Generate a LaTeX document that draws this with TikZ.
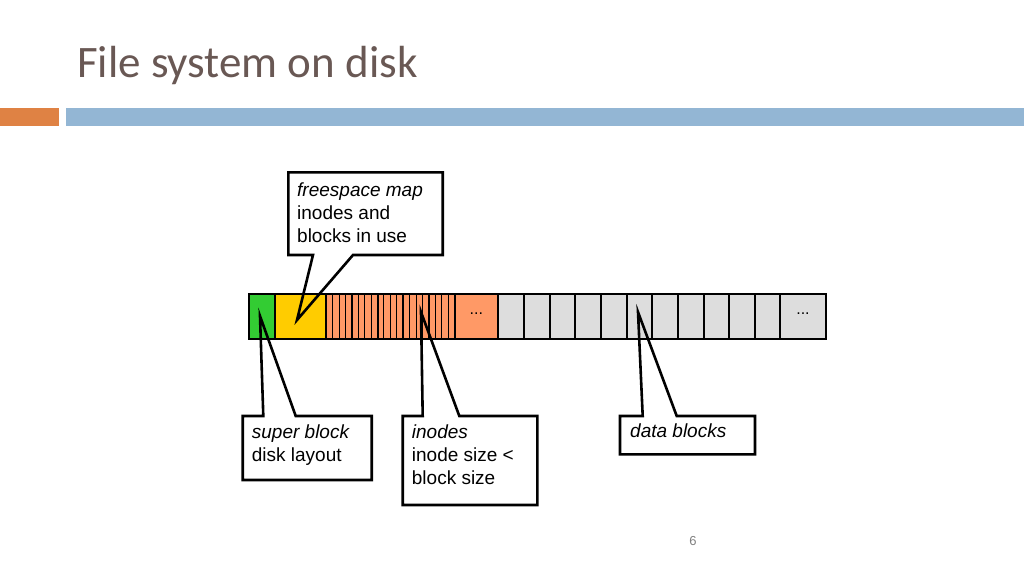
\documentclass[tikz,border=0pt]{standalone}
\usepackage{fontspec}
\setmainfont{Liberation Sans}
\newfontfamily\titlefont{Carlito}
\definecolor{titlegray}{RGB}{105,88,84}
\definecolor{barorange}{RGB}{223,130,68}
\definecolor{barblue}{RGB}{147,182,212}
\definecolor{sbgreen}{RGB}{51,204,51}
\definecolor{fmyellow}{RGB}{255,204,0}
\definecolor{inorange}{RGB}{255,153,102}
\definecolor{dbgray}{RGB}{221,221,221}
\tikzset{
  blk/.style={draw=black,line width=2pt},
  callout/.style={draw=black,line width=2.6pt,line join=miter},
  notetext/.style={anchor=north west,inner sep=0pt,align=left,font=\fontsize{19}{23}\selectfont},
}
\begin{document}
\begin{tikzpicture}[x=1pt,y=-1pt]
\useasboundingbox (0,0) rectangle (1024,576);
\fill[barorange] (0,108) rectangle (59,126);
\fill[barblue] (66,108) rectangle (1024,126);
\node[anchor=base west,inner sep=0pt,text=titlegray,font=\titlefont\fontsize{45}{45}\selectfont] (title) at (77,77) {File system on disk};

\draw[blk,fill=sbgreen] (249.3,294) rectangle (274.95,339.3);
\draw[blk,fill=fmyellow] (274.95,294) rectangle (326.25,339.3);
\foreach \i in {0,...,4} {
  \draw[blk,fill=inorange] ({326.25+25.65*\i},294) rectangle ({351.9+25.65*\i},339.3);
  \foreach \j in {1,2,3}
    \draw[line width=1pt] ({326.25+25.65*\i+6.41*\j},294) -- ++(0,45.3);
}
\draw[blk,fill=inorange] (454.5,294) rectangle (498.3,339.3);
\foreach \i in {0,...,10}
  \draw[blk,fill=dbgray] ({498.3+25.65*\i},294) rectangle ({523.95+25.65*\i},339.3);
\draw[blk,fill=dbgray] (780.45,294) rectangle (825.7,339.3);
\node[font=\fontsize{16}{16}\selectfont] (idots) at (476.4,314) {...};
\node[font=\fontsize{16}{16}\selectfont] (ddots) at (803,314) {...};

\coordinate (fmtip) at (297,320);
\coordinate (sbtip) at (260,316);
\coordinate (intip) at (421,312);
\coordinate (dbtip) at (638,312);
\draw[callout] (288.3,172.3) -- (442.7,172.3) -- (442.7,255) -- (353,255) -- (fmtip) -- (313,255) -- (288.3,255) -- cycle;
\draw[callout] (242.7,416) -- (263.3,416) -- (sbtip) -- (295.7,416) -- (371.7,416) -- (371.7,480) -- (242.7,480) -- cycle;
\draw[callout] (402.7,416) -- (422.7,416) -- (intip) -- (459.3,416) -- (537.3,416) -- (537.3,505) -- (402.7,505) -- cycle;
\draw[callout] (620,416) -- (642.7,416) -- (dbtip) -- (676.7,416) -- (755,416) -- (755,454.3) -- (620,454.3) -- cycle;

\node[notetext] (fmtext) at (297,182.8) {\textit{freespace map}\\inodes and\\blocks in use};
\node[notetext] (sbtext) at (251.7,424.4) {\textit{super block}\\disk layout};
\node[notetext] (intext) at (411.7,424.4) {\textit{inodes}\\inode size <\\block size};
\node[notetext] (dbtext) at (630,423.4) {\textit{data blocks}};
\node[text=gray,font=\fontsize{13}{13}\selectfont] (pagenum) at (693,541) {6};
\end{tikzpicture}
\end{document}
